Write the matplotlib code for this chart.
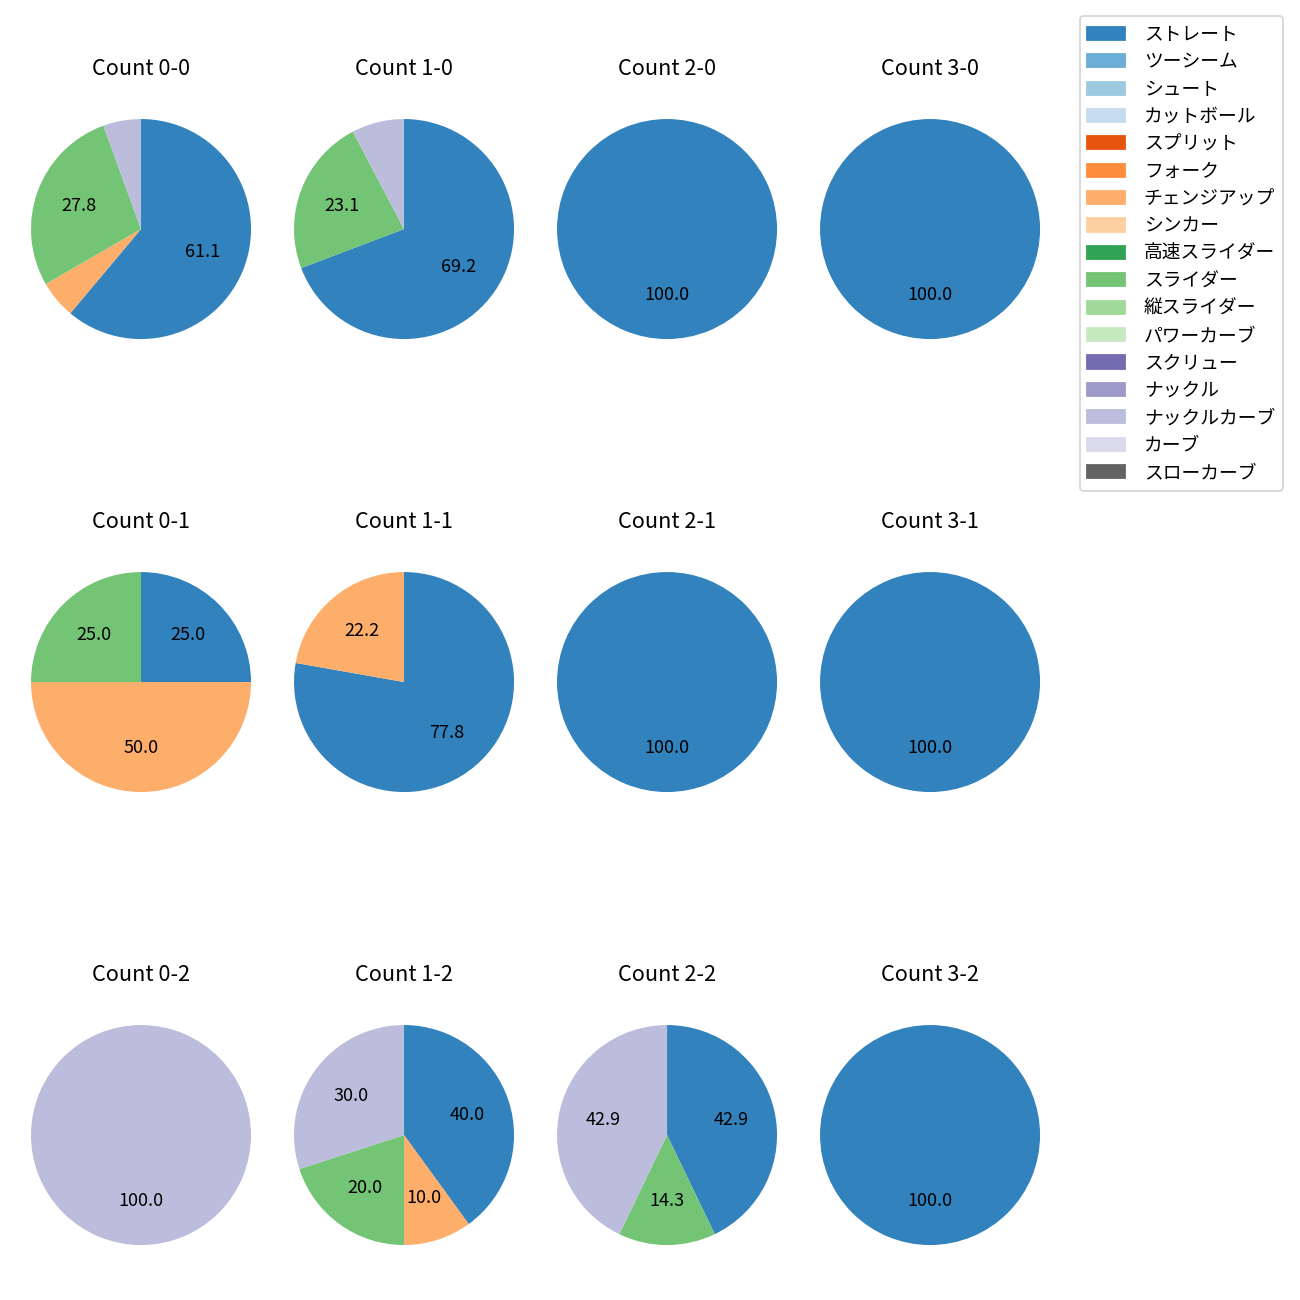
import matplotlib
matplotlib.use('Agg')
import matplotlib.pyplot as plt
from matplotlib.patches import Patch

plt.rcParams['font.family'] = ['Noto Sans CJK JP', 'DejaVu Sans']

# 球種と色 (tab20c 系)
pitch_names = ['ストレート', 'ツーシーム', 'シュート', 'カットボール', 'スプリット', 'フォーク',
               'チェンジアップ', 'シンカー', '高速スライダー', 'スライダー', '縦スライダー',
               'パワーカーブ', 'スクリュー', 'ナックル', 'ナックルカーブ', 'カーブ', 'スローカーブ']
pitch_colors = ['#3182bd', '#6baed6', '#9ecae1', '#c6dbef', '#e6550d', '#fd8d3c',
                '#fdae6b', '#fdd0a2', '#31a354', '#74c476', '#a1d99b', '#c7e9c0',
                '#756bb1', '#9e9ac8', '#bcbddc', '#dadaeb', '#636363']

# カウントごとの球種別投球数 (球種名: 数)
balls = [0, 1, 2, 3]
strikes = [0, 1, 2]
count_0_0 = {'ストレート': 11, 'チェンジアップ': 1, 'スライダー': 5, 'ナックルカーブ': 1}
count_1_0 = {'ストレート': 9, 'スライダー': 3, 'ナックルカーブ': 1}
count_2_0 = {'ストレート': 1}
count_3_0 = {'ストレート': 1}
count_0_1 = {'ストレート': 1, 'チェンジアップ': 2, 'スライダー': 1}
count_1_1 = {'ストレート': 7, 'チェンジアップ': 2}
count_2_1 = {'ストレート': 1}
count_3_1 = {'ストレート': 1}
count_0_2 = {'ナックルカーブ': 1}
count_1_2 = {'ストレート': 4, 'チェンジアップ': 1, 'スライダー': 2, 'ナックルカーブ': 3}
count_2_2 = {'ストレート': 3, 'スライダー': 1, 'ナックルカーブ': 3}
count_3_2 = {'ストレート': 1}

counts = {
    (0, 0): count_0_0, (1, 0): count_1_0, (2, 0): count_2_0, (3, 0): count_3_0,
    (0, 1): count_0_1, (1, 1): count_1_1, (2, 1): count_2_1, (3, 1): count_3_1,
    (0, 2): count_0_2, (1, 2): count_1_2, (2, 2): count_2_2, (3, 2): count_3_2,
}


def label_pct(p):
    # 小さい割合は表示しない
    return f'{p:.1f}' if p >= 10 else ''


fig, axes = plt.subplots(3, 4, figsize=(10, 10))
fig.subplots_adjust(left=0.0027, right=0.8212, top=0.9392, bottom=0.0115,
                    wspace=-0.0436, hspace=0.51)

for s in strikes:
    for b in balls:
        ax = axes[s][b]
        data = counts[(b, s)]
        names = [n for n in pitch_names if n in data]
        values = [data[n] for n in names]
        colors = [pitch_colors[pitch_names.index(n)] for n in names]
        ax.pie(values, colors=colors, startangle=90, counterclock=False,
               autopct=label_pct, textprops={'fontsize': 10})
        ax.set_title(f'Count {b}-{s}', fontsize=12, pad=9)

handles = [Patch(color=c, label=n) for n, c in zip(pitch_names, pitch_colors)]
fig.legend(handles=handles, loc='upper right', bbox_to_anchor=(0.9938, 0.9946),
           fontsize=10.4, labelspacing=0.34, handletextpad=1.0)

fig.savefig('out.png', dpi=130)
